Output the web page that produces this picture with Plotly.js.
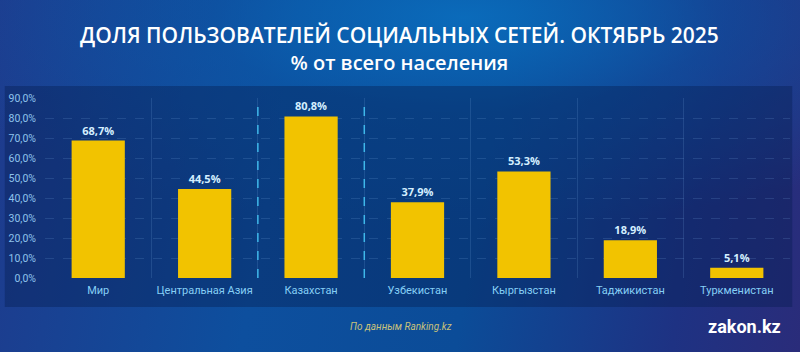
<!DOCTYPE html>
<html>
<head>
<meta charset="utf-8">
<script src="https://cdn.plot.ly/plotly-3.0.1.min.js"></script>
<style>
html,body{margin:0;padding:0;width:800px;height:352px;overflow:hidden;}
body{background:
  radial-gradient(ellipse 70% 60% at 58% 5%, rgba(10,110,190,0.9) 0%, rgba(10,90,170,0.5) 45%, rgba(10,70,150,0) 100%),
  linear-gradient(100deg, #1f3a8c 0%, #0d4f9e 35%, #0b4c98 60%, #1e3283 85%, #2a2c7a 100%);}
#chart{width:800px;height:352px;}
</style>
</head>
<body>
<div id="chart"></div>
<script>
const categories = ['Мир', 'Центральная Азия', 'Казахстан', 'Узбекистан', 'Кыргызстан', 'Таджикистан', 'Туркменистан'];
const shareValues = [68.7, 44.5, 80.8, 37.9, 53.3, 18.9, 5.1];
const highlighted = 'Казахстан';
const titleText = 'ДОЛЯ ПОЛЬЗОВАТЕЛЕЙ СОЦИАЛЬНЫХ СЕТЕЙ. ОКТЯБРЬ 2025';
const subtitleText = '% от всего населения';
const sourceText = 'По данным Ranking.kz';
const brandText = 'zakon.kz';

const hi = categories.indexOf(highlighted);

const trace = {
  type: 'bar',
  x: categories,
  y: shareValues,
  marker: {color: '#f2c300', line: {width: 0}},
  texttemplate: '%{y:.1f}%',
  textposition: 'outside',
  cliponaxis: false,
  textfont: {family: 'Open Sans, sans-serif', size: 11, color: '#d4efff', weight: 700},
  hoverinfo: 'skip'
};

const layout = {
  width: 800, height: 352,
  margin: {l: 45, r: 10, t: 98, b: 74},
  paper_bgcolor: 'rgba(0,0,0,0)',
  plot_bgcolor: 'rgba(0,0,0,0)',
  separators: ', ',
  bargap: 0.5,
  showlegend: false,
  xaxis: {
    type: 'category',
    tickson: 'boundaries',
    tickangle: 0,
    showgrid: true,
    gridcolor: 'rgba(120,170,230,0.18)',
    gridwidth: 1,
    ticks: '',
    showline: false,
    zeroline: false,
    tickfont: {family: 'Roboto, sans-serif', size: 11, color: '#86cff5'},
    ticklabelstandoff: 4
  },
  yaxis: {
    range: [0, 90],
    dtick: 10,
    tickformat: '.1f',
    ticksuffix: '%',
    showgrid: true,
    gridcolor: 'rgba(120,170,230,0.18)',
    griddash: 'dash',
    zeroline: false,
    showline: false,
    ticks: '',
    tickfont: {family: 'Roboto, sans-serif', size: 10.5, color: '#8ec3ec'},
    ticklabelstandoff: 8
  },
  shapes: [
    {type: 'rect', xref: 'paper', yref: 'paper', x0: -0.054, x1: 1.003, y0: -0.161, y1: 1.067,
     fillcolor: 'rgba(4,28,80,0.38)', line: {width: 0}, layer: 'below'},
    {type: 'line', xref: 'x', yref: 'paper', x0: hi - 0.5, x1: hi - 0.5, y0: 0, y1: 1,
     line: {color: '#3fb8ea', width: 1.5, dash: 'dash'}},
    {type: 'line', xref: 'x', yref: 'paper', x0: hi + 0.5, x1: hi + 0.5, y0: 0, y1: 1,
     line: {color: '#3fb8ea', width: 1.5, dash: 'dash'}}
  ],
  annotations: [
    {text: titleText + '<br><span style="font-size:20px">' + subtitleText + '</span>',
     xref: 'paper', yref: 'paper', x: 0.4765, y: 1.275, xanchor: 'center', yanchor: 'middle', align: 'center',
     showarrow: false, font: {family: 'Open Sans, sans-serif', size: 21, color: '#ffffff', weight: 600}},
    {text: '<i>' + sourceText + '</i>', xref: 'paper', yref: 'paper', x: 0.478, y: -0.267, xanchor: 'center', yanchor: 'middle',
     showarrow: false, font: {family: 'Roboto, sans-serif', size: 10, color: '#c9c27a'}},
    {text: '<b>' + brandText + '</b>', xref: 'paper', yref: 'paper', x: 0.99, y: -0.267, xanchor: 'right', yanchor: 'middle',
     showarrow: false, font: {family: 'Roboto, sans-serif', size: 18, color: '#ffffff'}}
  ]
};

Plotly.newPlot('chart', [trace], layout, {displayModeBar: false, staticPlot: true});
</script>
</body>
</html>
